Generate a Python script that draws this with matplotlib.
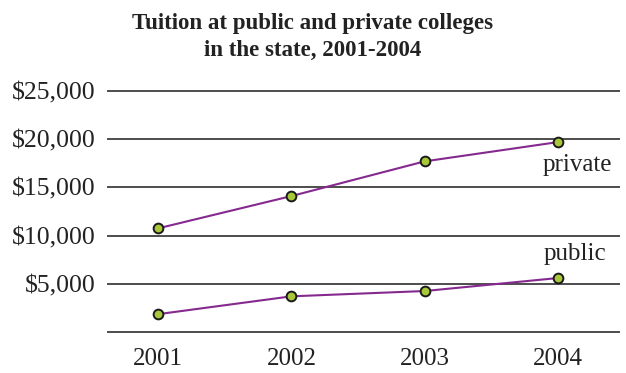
import matplotlib
matplotlib.use("Agg")
import matplotlib.pyplot as plt

years = ["2001", "2002", "2003", "2004"]
private = [10750, 14100, 17700, 19700]
public = [1850, 3700, 4250, 5600]
y_ticks = [0, 5000, 10000, 15000, 20000, 25000]
y_labels = ["", "$5,000", "$10,000", "$15,000", "$20,000", "$25,000"]

plt.rcParams["font.family"] = ["Liberation Serif", "DejaVu Serif"]

fig = plt.figure(figsize=(6.26, 3.73), dpi=100)
ax = fig.add_axes([107 / 626, 0.097, 513 / 626, 0.672])

x = range(len(years))
line_kw = dict(color="#86298f", linewidth=1.5, marker="o", markersize=7,
               markerfacecolor="#a8c83a", markeredgecolor="#1a1a1a",
               markeredgewidth=1.4, zorder=3)
ax.plot(x, private, **line_kw)
ax.plot(x, public, **line_kw)

# horizontal rules instead of spines
for v in y_ticks:
    ax.axhline(v, color="#4d4d4d", linewidth=1.4, zorder=1)

ax.set_ylim(-500, 25500)
ax.set_xlim(-0.383, 3.465)
ax.set_yticks(y_ticks)
ax.set_yticklabels(y_labels)
ax.set_xticks(list(x))
ax.set_xticklabels(years)
ax.tick_params(axis="both", length=0, labelsize=18, colors="#222222")
ax.tick_params(axis="y", pad=8, labelsize=18.5)
ax.tick_params(axis="x", pad=8)
for s in ax.spines.values():
    s.set_visible(False)

ax.annotate("private", (3, private[-1]), xytext=(19, -23), textcoords="offset pixels",
            ha="center", va="center", fontsize=18, color="#222222")
ax.annotate("public", (3, public[-1]), xytext=(17, 24), textcoords="offset pixels",
            ha="center", va="center", fontsize=18, color="#222222")

fig.text(0.5, 1 - 37 / 373, "Tuition at public and private colleges\nin the state, 2001-2004",
         ha="center", va="center", fontsize=16.5, fontweight="bold", color="#222222",
         linespacing=1.42)

fig.savefig("out.png", dpi=100)
